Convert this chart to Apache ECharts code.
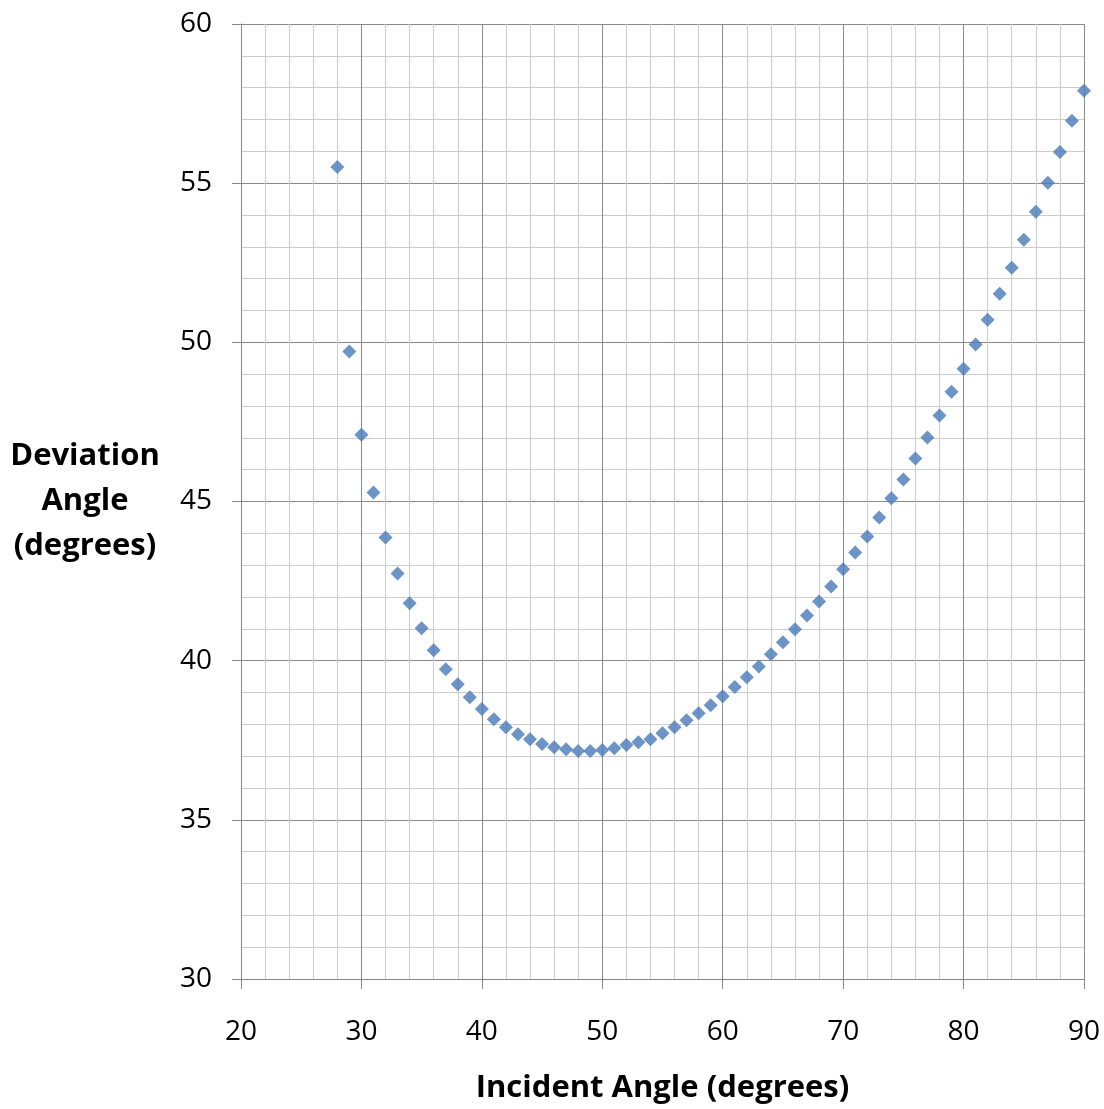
<!DOCTYPE html>
<html>
<head>
<meta charset="utf-8">
<script src="https://cdn.jsdelivr.net/npm/echarts@6/dist/echarts.min.js"></script>
<style>
  html, body { margin: 0; padding: 0; background: #fff; }
  #chart { width: 1104px; height: 1109px; }
</style>
</head>
<body>
<div id="chart"></div>
<script>
// incident angle (degrees)
const incidentAngles = [
  28, 29, 30, 31, 32, 33, 34, 35, 36, 37, 38, 39, 40, 41, 42, 43, 44, 45, 46, 47,
  48, 49, 50, 51, 52, 53, 54, 55, 56, 57, 58, 59, 60, 61, 62, 63, 64, 65, 66, 67,
  68, 69, 70, 71, 72, 73, 74, 75, 76, 77, 78, 79, 80, 81, 82, 83, 84, 85, 86, 87,
  88, 89, 90
];
// deviation angle (degrees)
const deviationAngles = [
  55.51, 49.71, 47.10, 45.28, 43.87, 42.74, 41.80, 41.02, 40.33, 39.73,
  39.26, 38.85, 38.48, 38.16, 37.91, 37.69, 37.53, 37.38, 37.28, 37.22,
  37.16, 37.16, 37.19, 37.25, 37.35, 37.44, 37.53, 37.72, 37.91, 38.13,
  38.35, 38.60, 38.88, 39.17, 39.48, 39.82, 40.20, 40.58, 40.99, 41.42,
  41.86, 42.33, 42.87, 43.40, 43.90, 44.50, 45.10, 45.69, 46.35, 47.01,
  47.70, 48.45, 49.17, 49.93, 50.71, 51.53, 52.34, 53.22, 54.10, 55.01,
  55.98, 56.96, 57.90
];

const xTitle = "Incident Angle (degrees)";
const yTitle = "Deviation\nAngle\n(degrees)";

const chart = echarts.init(document.getElementById("chart"));

const axisColor = "#878787";
const majorGrid = "#8a8a8a";
const minorGrid = "#cccccc";
const font = "'Open Sans', sans-serif";

const option = {
  animation: false,
  grid: {
    left: 241,
    right: 20,
    top: 24,
    bottom: 129,
  },
  xAxis: {
    type: "value",
    min: 20,
    max: 90,
    interval: 10,
    name: xTitle,
    nameLocation: "middle",
    nameGap: 94,
    nameTextStyle: {
      fontFamily: font,
      fontWeight: "bold",
      fontSize: 31,
      color: "#000",
    },
    axisLine: { show: true, lineStyle: { color: axisColor, width: 1 } },
    axisTick: { show: true, length: 10, lineStyle: { color: axisColor } },
    axisLabel: {
      margin: 39,
      fontFamily: font,
      fontSize: 28,
      color: "#000",
    },
    splitLine: { show: true, lineStyle: { color: majorGrid, width: 1 } },
    minorTick: { show: false, splitNumber: 5 },
    minorSplitLine: { show: true, lineStyle: { color: minorGrid, width: 1 } },
  },
  yAxis: {
    type: "value",
    min: 30,
    max: 60,
    interval: 5,
    name: yTitle,
    nameLocation: "middle",
    nameRotate: 0,
    nameGap: 156,
    nameTextStyle: {
      fontFamily: font,
      fontWeight: "bold",
      fontSize: 31,
      lineHeight: 45,
      align: "center",
      padding: [14, 0, 0, 0],
      color: "#000",
    },
    axisLine: { show: true, lineStyle: { color: axisColor, width: 1 } },
    axisTick: { show: true, length: 9, lineStyle: { color: axisColor } },
    axisLabel: {
      margin: 29,
      fontFamily: font,
      fontSize: 28,
      color: "#000",
    },
    splitLine: { show: true, lineStyle: { color: majorGrid, width: 1 } },
    minorTick: { show: false, splitNumber: 5 },
    minorSplitLine: { show: true, lineStyle: { color: minorGrid, width: 1 } },
  },
  series: [
    {
      name: "Deviation",
      type: "scatter",
      symbol: "diamond",
      symbolSize: 14,
      data: incidentAngles.map((x, i) => [x, deviationAngles[i]]),
      itemStyle: {
        color: "#4779b9",
      },
    },
  ],
};

chart.setOption(option);
</script>
</body>
</html>
